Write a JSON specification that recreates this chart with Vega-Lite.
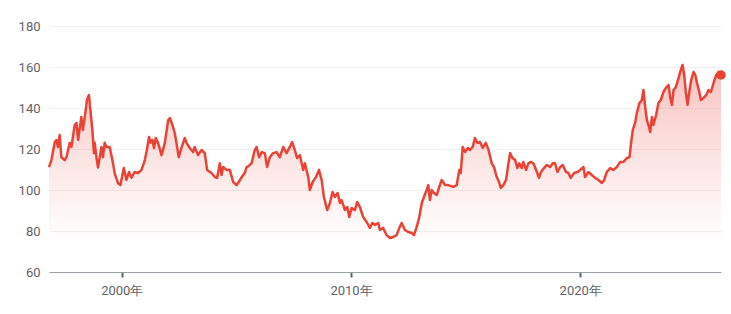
{
  "$schema": "https://vega.github.io/schema/vega-lite/v6.json",
  "autosize": "none",
  "width": 672,
  "height": 246,
  "padding": {"left": 49, "top": 26, "right": 10, "bottom": 42},
  "background": "white",
  "config": {"view": {"stroke": null}, "font": "Roboto"},
  "data": {"values": [
    {"d":"1996-10-28","v":111.2},{"d":"1996-12-06","v":114.6},{"d":"1997-01-28","v":123.4},{"d":"1997-02-24","v":124.4},{"d":"1997-03-19","v":121},{"d":"1997-04-16","v":126.8},{"d":"1997-05-13","v":116},{"d":"1997-07-05","v":114.6},{"d":"1997-08-02","v":116},{"d":"1997-09-23","v":123},{"d":"1997-10-20","v":121},{"d":"1997-12-12","v":131.7},
    {"d":"1998-01-09","v":132.7},{"d":"1998-02-04","v":124.4},{"d":"1998-03-27","v":135.6},{"d":"1998-04-22","v":129.3},{"d":"1998-06-05","v":139},{"d":"1998-06-25","v":143.9},{"d":"1998-07-27","v":146.3},{"d":"1998-08-19","v":139},{"d":"1998-09-20","v":129},{"d":"1998-10-15","v":118},{"d":"1998-10-26","v":123},{"d":"1998-11-23","v":116},{"d":"1998-12-18","v":111},
    {"d":"1999-02-11","v":121},{"d":"1999-03-07","v":116},{"d":"1999-04-03","v":123},{"d":"1999-04-30","v":121},{"d":"1999-06-22","v":121},{"d":"1999-08-14","v":113},{"d":"1999-09-11","v":108},{"d":"1999-11-03","v":103.3},{"d":"1999-12-11","v":102.4},
    {"d":"2000-02-02","v":110.7},{"d":"2000-03-15","v":104.9},{"d":"2000-04-26","v":108.8},{"d":"2000-06-03","v":105.9},{"d":"2000-07-25","v":108.8},{"d":"2000-09-17","v":108.3},{"d":"2000-11-11","v":109.8},
    {"d":"2001-01-02","v":114.6},{"d":"2001-01-29","v":118.5},{"d":"2001-03-10","v":125.9},{"d":"2001-04-02","v":123},{"d":"2001-05-03","v":124.4},{"d":"2001-05-29","v":120.5},{"d":"2001-06-25","v":125.4},{"d":"2001-08-01","v":123},{"d":"2001-09-25","v":117},{"d":"2001-11-17","v":123},
    {"d":"2002-01-09","v":134},{"d":"2002-02-05","v":135.1},{"d":"2002-03-18","v":131.7},{"d":"2002-04-24","v":127.8},{"d":"2002-05-21","v":123},{"d":"2002-06-27","v":116},{"d":"2002-08-09","v":120.5},{"d":"2002-10-01","v":125.4},{"d":"2002-10-28","v":123},{"d":"2002-12-20","v":120.5},
    {"d":"2003-02-11","v":118.5},{"d":"2003-03-08","v":121},{"d":"2003-04-30","v":117},{"d":"2003-06-24","v":119.5},{"d":"2003-08-15","v":118},{"d":"2003-09-22","v":109.8},{"d":"2003-12-01","v":108.3},
    {"d":"2004-01-23","v":106.3},{"d":"2004-02-28","v":105.9},{"d":"2004-04-11","v":113},{"d":"2004-05-08","v":107.3},{"d":"2004-06-03","v":111.2},{"d":"2004-07-27","v":109.8},{"d":"2004-09-18","v":109.8},{"d":"2004-11-10","v":103.9},
    {"d":"2005-01-04","v":102.4},{"d":"2005-02-26","v":104.9},{"d":"2005-04-17","v":107.3},{"d":"2005-05-14","v":108.3},{"d":"2005-06-11","v":111.2},{"d":"2005-07-06","v":111.5},{"d":"2005-08-29","v":113},{"d":"2005-10-21","v":119.5},{"d":"2005-11-18","v":121},{"d":"2005-12-29","v":116},
    {"d":"2006-02-07","v":118.5},{"d":"2006-03-29","v":118},{"d":"2006-05-05","v":111.2},{"d":"2006-06-17","v":116},{"d":"2006-08-09","v":118},{"d":"2006-10-02","v":118.5},{"d":"2006-11-24","v":116},
    {"d":"2007-01-16","v":121},{"d":"2007-03-10","v":118},{"d":"2007-05-01","v":121},{"d":"2007-06-08","v":123.4},{"d":"2007-07-20","v":119.5},{"d":"2007-08-27","v":115.6},{"d":"2007-10-09","v":117},{"d":"2007-12-01","v":109.8},{"d":"2007-12-28","v":113},
    {"d":"2008-02-19","v":106.3},{"d":"2008-03-16","v":100},{"d":"2008-04-29","v":103.9},{"d":"2008-06-21","v":106.3},{"d":"2008-08-08","v":109.8},{"d":"2008-09-20","v":104.9},{"d":"2008-10-26","v":96.6},{"d":"2008-12-18","v":90.2},
    {"d":"2009-01-30","v":93.7},{"d":"2009-03-13","v":99},{"d":"2009-04-19","v":96.6},{"d":"2009-06-01","v":98.5},{"d":"2009-07-08","v":93.7},{"d":"2009-08-04","v":95.1},{"d":"2009-09-26","v":90.2},{"d":"2009-11-02","v":91.7},{"d":"2009-12-04","v":86.8},
    {"d":"2010-01-11","v":91.2},{"d":"2010-03-03","v":90.2},{"d":"2010-04-10","v":94.1},{"d":"2010-05-22","v":91.7},{"d":"2010-07-14","v":86.8},{"d":"2010-09-07","v":84.4},{"d":"2010-10-29","v":81.5},{"d":"2010-12-05","v":83.9},
    {"d":"2011-01-18","v":82.9},{"d":"2011-03-10","v":83.9},{"d":"2011-04-06","v":80.5},{"d":"2011-05-28","v":81.5},{"d":"2011-07-22","v":78},{"d":"2011-09-14","v":76.6},{"d":"2011-11-05","v":77.1},{"d":"2011-12-29","v":78},
    {"d":"2012-02-10","v":81.5},{"d":"2012-03-18","v":83.9},{"d":"2012-05-09","v":80.5},{"d":"2012-07-01","v":79.5},{"d":"2012-08-25","v":79},{"d":"2012-10-01","v":78},{"d":"2012-11-13","v":82},{"d":"2012-12-24","v":86.8},
    {"d":"2013-02-02","v":93.7},{"d":"2013-03-08","v":96.6},{"d":"2013-04-20","v":100},{"d":"2013-05-16","v":102.4},{"d":"2013-06-12","v":95.1},{"d":"2013-07-09","v":100},{"d":"2013-08-15","v":98.5},{"d":"2013-09-28","v":97.6},{"d":"2013-11-08","v":101.5},{"d":"2013-12-16","v":104.9},
    {"d":"2014-02-08","v":102.4},{"d":"2014-03-30","v":102.4},{"d":"2014-06-19","v":101.5},{"d":"2014-08-12","v":102.4},{"d":"2014-09-23","v":109.8},{"d":"2014-10-15","v":108.3},{"d":"2014-11-16","v":121},{"d":"2014-12-23","v":118.5},
    {"d":"2015-02-05","v":120.5},{"d":"2015-03-11","v":119.5},{"d":"2015-04-24","v":121},{"d":"2015-05-30","v":125.4},{"d":"2015-07-06","v":123},{"d":"2015-08-18","v":123.4},{"d":"2015-10-01","v":120.5},{"d":"2015-11-18","v":123},{"d":"2015-12-28","v":120},
    {"d":"2016-02-22","v":113},{"d":"2016-03-29","v":111.2},{"d":"2016-05-11","v":106.3},{"d":"2016-06-17","v":103.9},{"d":"2016-07-14","v":101},{"d":"2016-08-25","v":102.4},{"d":"2016-10-07","v":104.9},{"d":"2016-11-13","v":113},{"d":"2016-12-10","v":118},
    {"d":"2017-01-16","v":115.6},{"d":"2017-02-28","v":114.6},{"d":"2017-04-05","v":110.7},{"d":"2017-05-06","v":113},{"d":"2017-06-14","v":110.7},{"d":"2017-07-09","v":113.7},{"d":"2017-08-22","v":109.8},{"d":"2017-09-28","v":113},{"d":"2017-11-05","v":113.7},{"d":"2017-12-16","v":113},
    {"d":"2018-01-29","v":109.8},{"d":"2018-03-16","v":105.9},{"d":"2018-04-17","v":108.8},{"d":"2018-06-04","v":110.7},{"d":"2018-07-17","v":112.2},{"d":"2018-09-09","v":111.2},{"d":"2018-10-21","v":113},{"d":"2018-11-27","v":113},
    {"d":"2019-01-04","v":108.8},{"d":"2019-02-16","v":111.2},{"d":"2019-03-29","v":112.2},{"d":"2019-05-20","v":108.8},{"d":"2019-06-26","v":108.3},{"d":"2019-08-04","v":105.9},{"d":"2019-09-26","v":108.3},{"d":"2019-11-18","v":108.8},
    {"d":"2020-01-01","v":109.8},{"d":"2020-02-22","v":111.2},{"d":"2020-03-19","v":106.3},{"d":"2020-05-11","v":108.8},{"d":"2020-07-04","v":107.3},{"d":"2020-08-26","v":105.9},{"d":"2020-10-18","v":104.9},{"d":"2020-12-11","v":103.4},
    {"d":"2021-01-18","v":104.9},{"d":"2021-02-28","v":108.8},{"d":"2021-04-22","v":110.7},{"d":"2021-06-14","v":109.8},{"d":"2021-08-07","v":111.2},{"d":"2021-09-29","v":113.7},{"d":"2021-11-21","v":113.7},
    {"d":"2022-01-14","v":115.6},{"d":"2022-02-25","v":116},{"d":"2022-03-22","v":123},{"d":"2022-04-19","v":129.3},{"d":"2022-05-25","v":132.7},{"d":"2022-06-22","v":137.6},{"d":"2022-08-03","v":142.4},{"d":"2022-09-10","v":143.9},{"d":"2022-10-05","v":148.8},{"d":"2022-11-02","v":140.5},{"d":"2022-11-29","v":134.1},{"d":"2022-12-24","v":131.7},
    {"d":"2023-01-21","v":128.3},{"d":"2023-02-17","v":135.6},{"d":"2023-03-13","v":131.7},{"d":"2023-04-25","v":136.6},{"d":"2023-06-01","v":142.4},{"d":"2023-07-09","v":143.9},{"d":"2023-08-20","v":147.8},{"d":"2023-09-28","v":149.8},{"d":"2023-11-09","v":151.2},{"d":"2023-12-05","v":145.4},
    {"d":"2024-01-02","v":141.5},{"d":"2024-01-28","v":148.8},{"d":"2024-03-05","v":150.2},{"d":"2024-04-16","v":154.6},{"d":"2024-05-13","v":157.6},{"d":"2024-06-19","v":161},{"d":"2024-07-16","v":156.1},{"d":"2024-08-12","v":147.3},{"d":"2024-09-07","v":141.5},{"d":"2024-10-09","v":148.8},{"d":"2024-11-05","v":153.7},{"d":"2024-12-12","v":157.6},
    {"d":"2025-01-08","v":156.1},{"d":"2025-02-05","v":152.2},{"d":"2025-03-06","v":148.8},{"d":"2025-04-08","v":143.9},{"d":"2025-05-19","v":144.9},{"d":"2025-07-01","v":146.3},{"d":"2025-08-07","v":148.8},{"d":"2025-09-15","v":147.8},{"d":"2025-10-26","v":152.2},{"d":"2025-12-08","v":156.1},{"d":"2026-01-15","v":157.6},{"d":"2026-02-22","v":156.1}
  ]},
  "encoding": {
    "x": {
      "field": "d", "type": "temporal", "title": null,
      "scale": {"nice": false, "padding": 0},
      "axis": {
        "values": [{"year": 2000, "month": 1, "date": 1}, {"year": 2010, "month": 1, "date": 1}, {"year": 2020, "month": 1, "date": 1}],
        "format": "%Y年", "grid": false, "domainColor": "#9aa0a6", "domainWidth": 1,
        "tickColor": "#5f6368", "tickSize": 5, "tickWidth": 2, "labelPadding": 7,
        "labelFontSize": 13, "labelColor": "#5f6368", "labelFont": "Roboto"
      }
    },
    "y": {
      "field": "v", "type": "quantitative", "title": null,
      "scale": {"domain": [60, 180], "nice": false, "zero": false},
      "axis": {
        "values": [60, 80, 100, 120, 140, 160, 180], "domain": false, "ticks": false, "tickSize": 0,
        "labelPadding": 9, "gridColor": "#f1f1f1", "gridWidth": 1,
        "labelFontSize": 13, "labelColor": "#5f6368", "labelFont": "Roboto"
      }
    }
  },
  "layer": [
    {
      "mark": {
        "type": "area", "clip": true,
        "color": {"gradient": "linear", "x1": 0, "y1": 0, "x2": 0, "y2": 1,
          "stops": [{"offset": 0, "color": "rgba(234,67,53,0.32)"}, {"offset": 0.5, "color": "rgba(234,67,53,0.12)"}, {"offset": 0.86, "color": "rgba(234,67,53,0)"}]}
      },
      "encoding": {"y2": {"datum": 60}}
    },
    {"mark": {"type": "line", "color": "#ea4335", "strokeWidth": 2.5, "strokeJoin": "round", "interpolate": "linear"}},
    {
      "transform": [{"filter": "year(datum.d) == 2026 && month(datum.d) == 1"}],
      "mark": {"type": "point", "filled": true, "color": "#ea4335", "opacity": 1, "size": 90}
    }
  ]
}
